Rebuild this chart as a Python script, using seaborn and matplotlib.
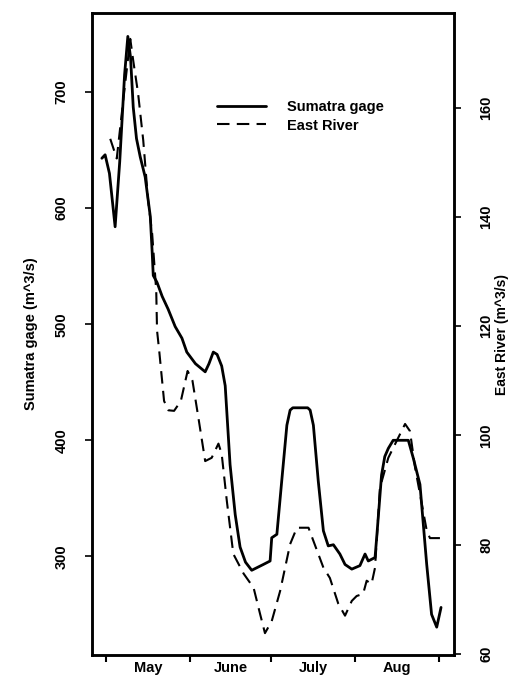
import numpy as np
import pandas as pd
import matplotlib
matplotlib.use("Agg")
import matplotlib.pyplot as plt
import seaborn as sns

# days counted from May 1
sumatra_day = [-1.6, -0.4, 1.2, 3.3, 5.0, 6.8, 8.0, 9.0, 10.0, 11.2, 12.6, 14.4, 16.3,
               17.0, 17.4, 18.8, 20.7, 22.9, 25.5, 28.0, 29.8, 33.0, 36.6, 38.0, 39.6,
               41.0, 42.7, 44.0, 45.8, 47.7, 49.5, 51.5, 53.8, 58.1, 60.6, 61.2, 63.1,
               64.9, 66.8, 68.0, 69.0, 74.5, 75.4, 76.6, 78.4, 80.3, 82.1, 84.0, 86.4,
               88.3, 90.8, 93.8, 95.7, 96.9, 99.4, 100.0, 101.8, 103.0, 104.3, 106.1,
               111.7, 113.5, 116.0, 118.5, 120.3, 122.2, 123.8]
sumatra_q = [643, 646, 630, 584, 640, 715, 748, 730, 687, 660, 644, 627, 593,
             562, 542, 536, 524, 513, 498, 488, 476, 466, 459, 466, 476,
             474, 464, 447, 379, 336, 308, 295, 288, 293, 296, 316, 319,
             365, 413, 426, 428, 428, 426, 413, 365, 322, 309, 310, 302,
             293, 289, 292, 302, 296, 299, 316, 370, 386, 393, 400,
             400, 385, 362, 293, 250, 239, 256]

east_day = [1.5, 3.9, 6.0, 8.9, 10.0, 11.8, 13.7, 15.5, 17.0, 18.5, 18.8, 19.6, 21.4,
            23.0, 25.1, 27.6, 30.1, 31.9, 34.1, 36.6, 39.0, 41.5, 42.7, 44.6, 47.0,
            50.8, 54.5, 56.9, 58.7, 61.2, 64.3, 68.0, 70.5, 74.8, 76.6, 80.3,
            82.7, 85.8, 88.3, 90.8, 92.6, 95.0, 96.3, 98.1, 99.4, 101.2, 104.3,
            107.4, 110.5, 112.3, 114.2, 116.0, 118.5, 119.7, 123.4]
east_q = [154.3, 150.7, 160.0, 172.6, 168.6, 162.6, 154.0, 143.0, 136.9, 126.5, 119.2,
          115.5, 106.3, 104.6, 104.5, 106.3, 111.8, 110.0, 103.2, 95.3, 95.9, 98.5,
          96.6, 88.0, 78.3, 74.7, 72.1, 67.3, 63.8, 66.0, 71.5, 80.1, 83.1,
          83.1, 80.7, 75.8, 73.9, 69.2, 67.0, 69.7, 70.6, 71.0, 73.4, 72.8,
          75.8, 90.4, 95.9, 99.0, 102.1, 100.8, 94.1, 89.3, 82.6, 81.2, 81.2]

month_edges = [0, 31, 61, 92, 123]
month_mid = [15.5, 46, 76.5, 107.5]
month_names = ["May", "June", "July", "Aug"]

sns.set_style("ticks")
plt.rcParams["font.family"] = ["Liberation Sans", "DejaVu Sans"]
plt.rcParams["font.weight"] = "bold"
plt.rcParams["axes.labelweight"] = "bold"
plt.rcParams["font.size"] = 10.5
plt.rcParams["text.color"] = "black"
plt.rcParams["axes.labelcolor"] = "black"
plt.rcParams["xtick.color"] = "black"
plt.rcParams["ytick.color"] = "black"
plt.rcParams["axes.edgecolor"] = "black"

sumatra = pd.DataFrame({"day": sumatra_day, "q": sumatra_q})
east = pd.DataFrame({"day": east_day, "q": east_q})

fig = plt.figure(figsize=(5.09, 6.77), dpi=100)
ax = fig.add_axes([0.181, 0.0325, 0.711, 0.948])
ax2 = ax.twinx()

sns.lineplot(data=sumatra, x="day", y="q", ax=ax, color="black", lw=2.0,
             label="Sumatra gage", legend=False)
sns.lineplot(data=east, x="day", y="q", ax=ax2, color="black", lw=1.5,
             linestyle=(0, (6, 3.5)), label="East River", legend=False)

ax.set_xlim(-5.2, 128.6)
ax.set_ylim(215, 768)
ax2.set_ylim(59.8, 177.3)

ax.set_xticks(month_edges)
ax.set_xticklabels([])
ax.set_xticks(month_mid, minor=True)
ax.set_xticklabels(month_names, minor=True)
ax.tick_params(axis="x", which="minor", length=0, pad=4)
ax.tick_params(axis="x", which="major", length=5, width=1.5)

ax.set_yticks([300, 400, 500, 600, 700])
ax2.set_yticks([60, 80, 100, 120, 140, 160])
ax.tick_params(axis="y", length=5, width=1.2, pad=12)
ax2.tick_params(axis="y", length=5, width=1.2, pad=13)
for a in (ax, ax2):
    for t in a.get_yticklabels():
        t.set_rotation(90)
        t.set_va("center")
    for s in a.spines.values():
        s.set_visible(True)
        s.set_linewidth(1.8)

ax.set_xlabel("")
ax.set_ylabel("Sumatra gage (m^3/s)", labelpad=12)
ax2.set_ylabel("East River (m^3/s)", rotation=90, fontsize=10)
ax2.yaxis.set_label_coords(1.133, 0.5)
ax2.yaxis.label.set_va("center")

h1, l1 = ax.get_legend_handles_labels()
h2, l2 = ax2.get_legend_handles_labels()
ax2.legend(h1 + h2, l1 + l2, loc="upper left", bbox_to_anchor=(0.31, 0.885),
           frameon=False, handlelength=3.3, handletextpad=1.5, labelspacing=0.3)

fig.savefig("out.png", dpi=100, facecolor="white")
